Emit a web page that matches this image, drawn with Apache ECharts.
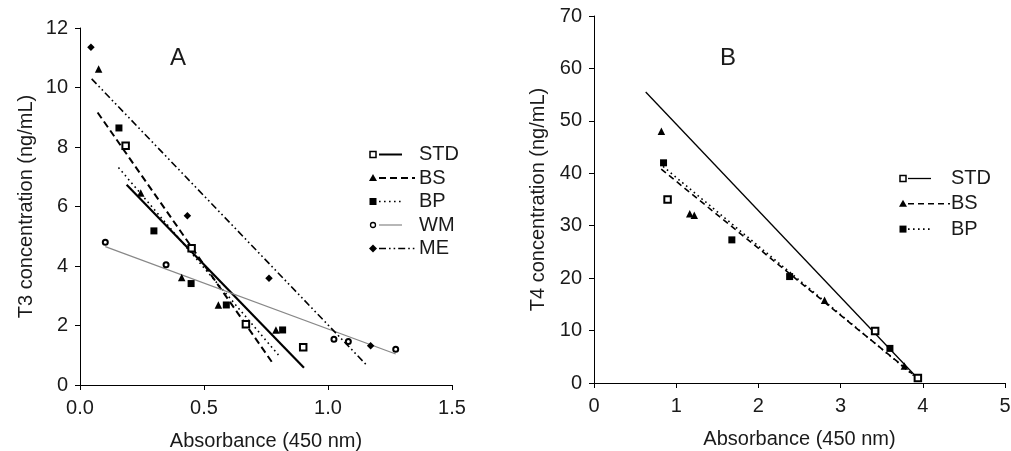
<!DOCTYPE html>
<html><head><meta charset="utf-8">
<script src="https://cdn.jsdelivr.net/npm/echarts@6/dist/echarts.min.js"></script>
<style>html,body{margin:0;padding:0;background:#fff}#c{width:1011px;height:451px}</style>
</head><body><div id="c"></div>
<script>
// ---------- DATA ----------
// Panel A (T3): measured points [absorbance, concentration]
const aSTD = [[0.184,8.04],[0.45,4.6],[0.669,2.04],[0.90,1.27]];
const aBS  = [[0.075,10.62],[0.245,6.45],[0.41,3.61],[0.558,2.69],[0.79,1.85]];
const aBP  = [[0.157,8.64],[0.298,5.18],[0.448,3.41],[0.59,2.69],[0.817,1.85]];
const aWM  = [[0.102,4.80],[0.347,4.04],[1.024,1.54],[1.082,1.46],[1.273,1.20]];
const aME  = [[0.044,11.35],[0.433,5.69],[0.762,3.59],[1.172,1.32]];
// Panel A fitted lines (end points)
const aSTDfit = [[0.188,6.73],[0.903,0.58]];
const aBSfit  = [[0.071,9.16],[0.78,0.70]];
const aBPfit  = [[0.155,7.31],[0.80,1.01]];
const aWMfit  = [[0.102,4.65],[1.273,1.04]];
const aMEfit  = [[0.047,10.29],[1.158,0.65]];
// Panel B (T4)
const bSTD = [[0.617,70.2],[0.895,35.0],[3.42,9.9],[3.94,0.95]];
const bBS  = [[0.82,48.0],[1.165,32.3],[1.22,32.0],[2.805,15.8],[3.776,3.25]];
const bBP  = [[0.846,42.0],[1.677,27.3],[2.38,20.3],[3.6,6.6]];
const bSTDfit = [[0.629,55.5],[3.94,0.85]];
const bBSfit  = [[0.818,40.8],[3.87,1.8]];
const bBPfit  = [[0.84,41.3],[3.92,1.0]];
// Axis ticks
const aXTicks = [0, 0.5, 1.0, 1.5];
const aYTicks = [0, 2, 4, 6, 8, 10, 12];
const bXTicks = [0, 1, 2, 3, 4, 5];
const bYTicks = [0, 10, 20, 30, 40, 50, 60, 70];
const legendA = ['STD','BS','BP','WM','ME'];
const legendB = ['STD','BS','BP'];
const xName = 'Absorbance (450 nm)';
const yNameA = 'T3 concentration (ng/mL)';
const yNameB = 'T4 concentration (ng/mL)';

// ---------- STYLES ----------
const FONT = '"Liberation Sans", Arial, sans-serif';
const TXT = '#1a1a1a';
const sym = {
  STD: {symbol:'emptyRect', symbolSize:6.5, itemStyle:{color:'#000', borderWidth:1.5, opacity:1}},
  BS:  {symbol:'triangle', symbolSize:7.5, itemStyle:{color:'#000', opacity:1}},
  BP:  {symbol:'rect', symbolSize:7, itemStyle:{color:'#000', opacity:1}},
  WM:  {symbol:'emptyCircle', symbolSize:5, itemStyle:{color:'#000', borderWidth:1.3, opacity:1}},
  ME:  {symbol:'diamond', symbolSize:7.5, itemStyle:{color:'#000', opacity:1}}
};
const lineA = {
  STD: {color:'#000', width:2.2, type:'solid'},
  BS:  {color:'#000', width:2, type:[7,4]},
  BP:  {color:'#000', width:1.6, type:[1.6,3.4]},
  WM:  {color:'#888', width:1.2, type:'solid'},
  ME:  {color:'#000', width:1.6, type:[7,3,1.6,3,1.6,3]}
};
const lineB = {
  STD: {color:'#000', width:1.3, type:'solid'},
  BS:  {color:'#000', width:1.6, type:[6,4]},
  BP:  {color:'#000', width:1.6, type:[1.6,3.4]}
};

function axisX(gi, min, max, interval, dec, gapName){
  return {gridIndex:gi, type:'value', min, max, interval,
    name:xName, nameLocation:'middle', nameGap:gapName,
    nameTextStyle:{fontFamily:FONT, fontSize:20, color:TXT},
    axisLine:{show:true, onZero:false, lineStyle:{color:'#000', width:1}},
    axisTick:{show:true, inside:false, length:5, lineStyle:{color:'#000'}},
    axisLabel:{fontFamily:FONT, fontSize:20, color:TXT, margin:13,
      formatter: v => v.toFixed(dec)},
    splitLine:{show:false}};
}
function axisY(gi, min, max, interval, name, gap){
  return {gridIndex:gi, type:'value', min, max, interval,
    name, nameLocation:'middle', nameGap:gap, nameRotate:90,
    nameTextStyle:{fontFamily:FONT, fontSize:20, color:TXT},
    axisLine:{show:true, onZero:false, lineStyle:{color:'#000', width:1}},
    axisTick:{show:true, inside:false, length:5, lineStyle:{color:'#000'}},
    axisLabel:{fontFamily:FONT, fontSize:20, color:TXT, margin:12},
    splitLine:{show:false}};
}

const series = [];
function addGroup(idx, name, pts, fit, ls){
  series.push({type:'line', name:name+' fit', xAxisIndex:idx, yAxisIndex:idx,
    data:fit, symbol:'none', silent:true, z:2,
    lineStyle:{color:ls.color, width:ls.width, type:ls.type}});
  series.push(Object.assign({type:'scatter', name, xAxisIndex:idx, yAxisIndex:idx,
    data:pts, z:3}, sym[name]));
}
addGroup(0,'STD',aSTD,aSTDfit,lineA.STD);
addGroup(0,'BS',aBS,aBSfit,lineA.BS);
addGroup(0,'BP',aBP,aBPfit,lineA.BP);
addGroup(0,'WM',aWM,aWMfit,lineA.WM);
addGroup(0,'ME',aME,aMEfit,lineA.ME);
addGroup(1,'STD',bSTD,bSTDfit,lineB.STD);
addGroup(1,'BS',bBS,bBSfit,lineB.BS);
addGroup(1,'BP',bBP,bBPfit,lineB.BP);

// ---------- LEGEND (drawn as graphic) ----------
function marker(name, cx, cy){
  if(name==='STD') return {type:'rect', shape:{x:cx-3,y:cy-3,width:6,height:6}, style:{fill:'#fff',stroke:'#000',lineWidth:1.5}};
  if(name==='BS') return {type:'polygon', shape:{points:[[cx,cy-4],[cx+4,cy+3],[cx-4,cy+3]]}, style:{fill:'#000'}};
  if(name==='BP') return {type:'rect', shape:{x:cx-3.5,y:cy-3.5,width:7,height:7}, style:{fill:'#000'}};
  if(name==='WM') return {type:'circle', shape:{cx,cy,r:2.5}, style:{fill:'#fff',stroke:'#000',lineWidth:1.3}};
  return {type:'polygon', shape:{points:[[cx,cy-4],[cx+4,cy],[cx,cy+4],[cx-4,cy]]}, style:{fill:'#000'}};
}
function legendEls(names, styles, mx, y0, dy, lx1, lenMap, tx){
  const els = [];
  names.forEach((n,i)=>{
    const cy = y0 + i*dy;
    const ls = styles[n];
    const len = lenMap[n] || 23;
    els.push({type:'line', shape:{x1:lx1, y1:cy, x2:lx1+len, y2:cy},
      style:{stroke:ls.color, lineWidth:Math.min(ls.width,2), lineDash: Array.isArray(ls.type)?ls.type:null}});
    els.push(marker(n, mx, cy));
    els.push({type:'text', style:{text:n, x:tx, y:cy, font:'20px '+FONT, fill:TXT, verticalAlign:'middle', align:'left'}});
  });
  return els;
}
const graphic = []
  .concat(legendEls(legendA, lineA, 373, 154.5, 23.5, 379, {BS:36, ME:38}, 419))
  .concat(legendEls(legendB, lineB, 903, 178.5, 25.3, 908, {BS:42}, 951))
  .concat([
    {type:'text', style:{text:'A', x:178, y:58, font:'24px '+FONT, fill:TXT, align:'center', verticalAlign:'middle'}},
    {type:'text', style:{text:'B', x:728, y:58, font:'24px '+FONT, fill:TXT, align:'center', verticalAlign:'middle'}}
  ]);

const chart = echarts.init(document.getElementById('c'), null, {renderer:'canvas'});
chart.setOption({
  animation:false,
  backgroundColor:'#fff',
  grid:[
    {left:80, right:559, top:28, bottom:66, containLabel:false, outerBoundsMode:'none'},
    {left:594, right:6, top:16, bottom:68, containLabel:false, outerBoundsMode:'none'}
  ],
  xAxis:[axisX(0, aXTicks[0], aXTicks[aXTicks.length-1], aXTicks[1]-aXTicks[0], 1, 46),
         axisX(1, bXTicks[0], bXTicks[bXTicks.length-1], bXTicks[1]-bXTicks[0], 0, 46)],
  yAxis:[axisY(0, aYTicks[0], aYTicks[aYTicks.length-1], aYTicks[1]-aYTicks[0], yNameA, 44),
         axisY(1, bYTicks[0], bYTicks[bYTicks.length-1], bYTicks[1]-bYTicks[0], yNameB, 46)],
  series,
  graphic
});
</script></body></html>
